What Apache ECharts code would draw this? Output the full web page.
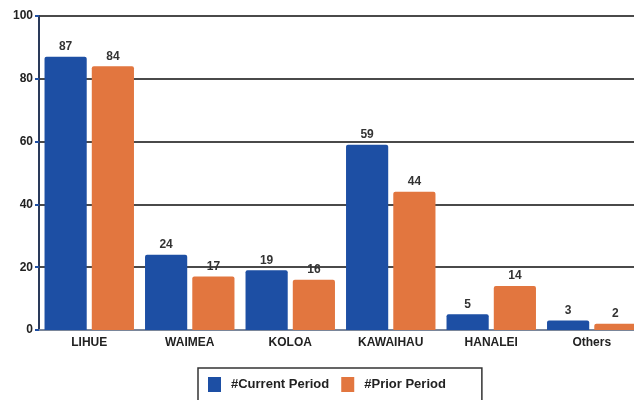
<!DOCTYPE html>
<html>
<head>
<meta charset="utf-8">
<script src="https://cdn.jsdelivr.net/npm/echarts@6/dist/echarts.min.js"></script>
<style>
  html, body { margin: 0; padding: 0; background: #fff; }
  #chart { width: 634px; height: 400px; }
</style>
</head>
<body>
<div id="chart"></div>
<script>
// data
const categories = ["LIHUE", "WAIMEA", "KOLOA", "KAWAIHAU", "HANALEI", "Others"];
const currentPeriod = [87, 24, 19, 59, 5, 3];
const priorPeriod = [84, 17, 16, 44, 14, 2];
const seriesNames = ["#Current Period", "#Prior Period"];

const chart = echarts.init(document.getElementById("chart"));

const labelStyle = {
  show: true,
  position: "top",
  distance: 4,
  color: "#333",
  fontFamily: "Liberation Sans",
  fontWeight: "bold",
  fontSize: 12,
};

chart.setOption({
  animation: false,
  textStyle: { fontFamily: "Liberation Sans" },
  grid: { left: 39, right: -8, top: 16, bottom: 70, outerBoundsMode: "none" },
  legend: {
    left: 198,
    top: 368,
    itemWidth: 13,
    itemHeight: 15,
    itemGap: 12,
    padding: [9, 36, 14, 10],
    borderColor: "#333",
    borderWidth: 1.5,
    icon: "rect",
    textStyle: { fontSize: 13, fontWeight: "bold", color: "#222", padding: [0, 0, 0, 5] },
    data: seriesNames,
  },
  xAxis: {
    type: "category",
    data: categories,
    axisLine: { lineStyle: { color: "#8a9bb5", width: 1.5 } },
    axisTick: { show: false },
    axisLabel: { color: "#222", fontSize: 12, fontWeight: "bold", margin: 7 },
  },
  yAxis: {
    type: "value",
    min: 0,
    max: 100,
    interval: 20,
    axisLine: { show: true, lineStyle: { color: "#2a3a5a", width: 2 } },
    axisTick: { show: true, length: 4, lineStyle: { color: "#1f4fa3", width: 2 } },
    axisLabel: { color: "#222", fontSize: 12, fontWeight: "bold", margin: 6 },
    splitLine: { lineStyle: { color: "#4a4a4a", width: 2 } },
  },
  series: [
    {
      name: seriesNames[0],
      type: "bar",
      data: currentPeriod,
      barGap: "12%",
      barCategoryGap: "11%",
      itemStyle: { color: "#1d4fa4", borderRadius: [2, 2, 0, 0] },
      label: labelStyle,
    },
    {
      name: seriesNames[1],
      type: "bar",
      data: priorPeriod,
      itemStyle: { color: "#e2763f", borderRadius: [2, 2, 0, 0] },
      label: labelStyle,
    },
  ],
});
</script>
</body>
</html>
